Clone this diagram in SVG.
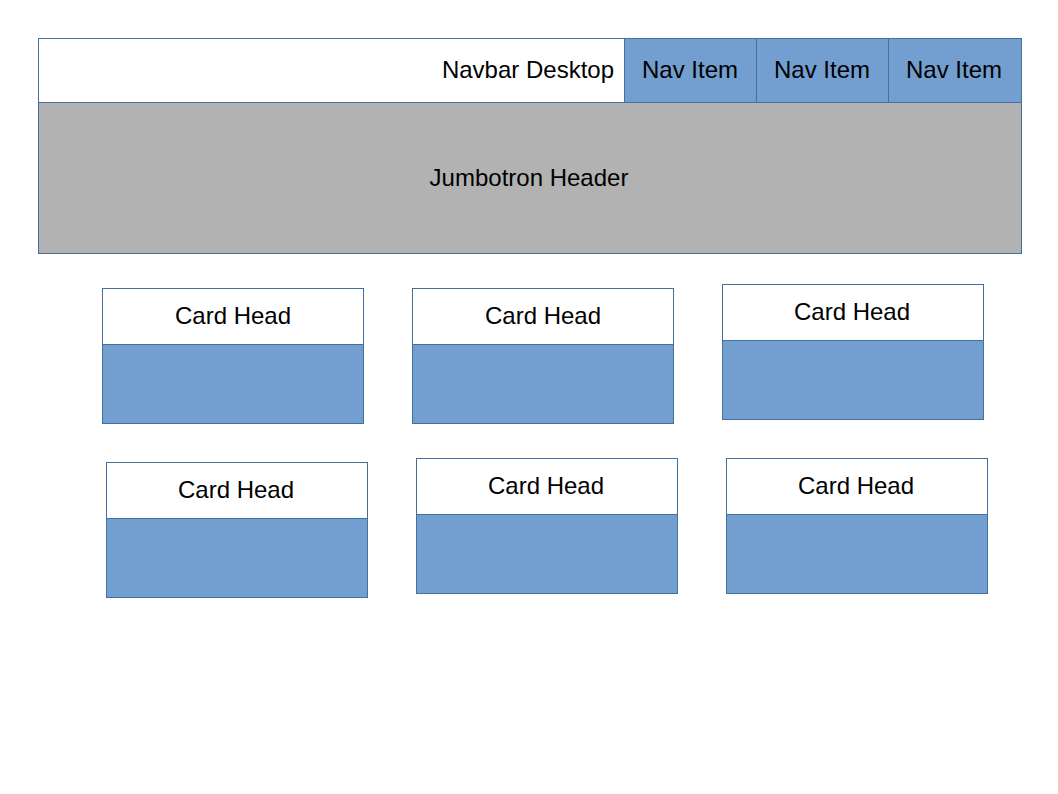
<svg xmlns="http://www.w3.org/2000/svg" width="1058" height="794" viewBox="0 0 1058 794">
<style>
.bx{stroke:#41719c;stroke-width:1}
.w{fill:#ffffff}
.b{fill:#729fcf}
.g{fill:#b2b2b2}
text{font-family:"Liberation Sans",Arial,sans-serif;font-size:24px;fill:#000000}
.c{text-anchor:middle}
</style>
<rect width="1058" height="794" fill="#ffffff"/>
<g id="navbar">
<rect class="bx w" x="38.5" y="38.5" width="983" height="64"/>
<text x="614" y="78" text-anchor="end">Navbar Desktop</text>
</g>
<g id="nav1"><rect class="bx b" x="624.5" y="38.5" width="132" height="64"/><text class="c" x="690" y="78">Nav Item</text></g>
<g id="nav2"><rect class="bx b" x="756.5" y="38.5" width="132" height="64"/><text class="c" x="822" y="78">Nav Item</text></g>
<g id="nav3"><rect class="bx b" x="888.5" y="38.5" width="133" height="64"/><text class="c" x="954" y="78">Nav Item</text></g>
<g id="jumbotron">
<rect class="bx g" x="38.5" y="102.5" width="983" height="151"/>
<text class="c" x="529" y="186">Jumbotron Header</text>
</g>
<g id="card1"><rect class="bx b" x="102.5" y="344.5" width="261" height="79"/><rect class="bx w" x="102.5" y="288.5" width="261" height="56"/><text class="c" x="233" y="324">Card Head</text></g>
<g id="card2"><rect class="bx b" x="412.5" y="344.5" width="261" height="79"/><rect class="bx w" x="412.5" y="288.5" width="261" height="56"/><text class="c" x="543" y="324">Card Head</text></g>
<g id="card3"><rect class="bx b" x="722.5" y="340.5" width="261" height="79"/><rect class="bx w" x="722.5" y="284.5" width="261" height="56"/><text class="c" x="852" y="320">Card Head</text></g>
<g id="card4"><rect class="bx b" x="106.5" y="518.5" width="261" height="79"/><rect class="bx w" x="106.5" y="462.5" width="261" height="56"/><text class="c" x="236" y="498">Card Head</text></g>
<g id="card5"><rect class="bx b" x="416.5" y="514.5" width="261" height="79"/><rect class="bx w" x="416.5" y="458.5" width="261" height="56"/><text class="c" x="546" y="494">Card Head</text></g>
<g id="card6"><rect class="bx b" x="726.5" y="514.5" width="261" height="79"/><rect class="bx w" x="726.5" y="458.5" width="261" height="56"/><text class="c" x="856" y="494">Card Head</text></g>
<g id="connectors"></g>
</svg>
